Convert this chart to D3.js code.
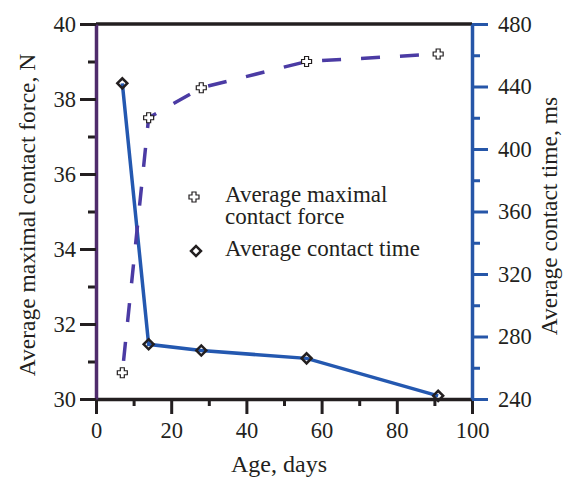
<!DOCTYPE html>
<html>
<head>
<meta charset="utf-8">
<script src="https://cdn.jsdelivr.net/npm/d3@7"></script>
<style>
  body { margin: 0; background: #fff; }
  svg text { font-family: 'Liberation Serif', 'Times New Roman', serif; fill: #231f20; }
</style>
</head>
<body>
<svg id="chart" width="566" height="480"></svg>
<script>
'use strict';

// age in days
let ages = [7, 14, 28, 56, 91];
// average maximal contact force, N (left axis)
let forceValues = [30.7, 37.5, 38.3, 39.0, 39.2];
// average contact time, ms (right axis)
let timeValues = [442, 275, 271, 266, 242];

let xTicks = [0, 20, 40, 60, 80, 100];
let forceTicks = [30, 32, 34, 36, 38, 40];
let timeTicks = [240, 280, 320, 360, 400, 440, 480];

let legendLabels = [['Average maximal', 'contact force'], ['Average contact time']];

let svg = d3.select('#chart');
let plotLeft = 96, plotRight = 472, plotTop = 24, plotBottom = 399;

let x = d3.scaleLinear().domain([0, 100]).range([plotLeft, plotRight]);
let yF = d3.scaleLinear().domain([30, 40]).range([plotBottom, plotTop]);
let yT = d3.scaleLinear().domain([240, 480]).range([plotBottom, plotTop]);

let purple = '#4f2c6c';
let blue = '#2656a8';
let dashColor = '#4b3ba4';
let lineBlue = '#2458b0';

// minor ticks
let minorX = d3.range(10, 100, 20);
let minorF = d3.range(31, 40, 2);
let minorT = d3.range(260, 480, 40);

function styleAxis(g, color, lineColor) {
    g.selectAll('.tick line').attr('stroke', color).attr('stroke-width', 3);
    g.select('.domain').attr('stroke', lineColor || color).attr('stroke-width', 3.5);
    g.selectAll('text').style('font-size', '22.5px').attr('fill', '#231f20');
}

// bottom axis
svg.append('g')
    .attr('transform', 'translate(0,' + plotBottom + ')')
    .call(d3.axisBottom(x).tickValues(minorX).tickSize(7).tickFormat('').tickSizeOuter(0))
    .call(g => { styleAxis(g, '#231f20'); g.select('.domain').remove(); });
svg.append('g')
    .attr('transform', 'translate(0,' + plotBottom + ')')
    .call(d3.axisBottom(x).tickValues(xTicks).tickSize(15).tickPadding(8).tickSizeOuter(0))
    .call(g => styleAxis(g, '#231f20'));

// top border
svg.append('line')
    .attr('x1', plotLeft).attr('x2', plotRight)
    .attr('y1', plotTop).attr('y2', plotTop)
    .attr('stroke', '#231f20').attr('stroke-width', 3.5);

// left axis
svg.append('g')
    .attr('transform', 'translate(' + plotLeft + ',0)')
    .call(d3.axisLeft(yF).tickValues(minorF).tickSize(8).tickFormat('').tickSizeOuter(0))
    .call(g => { styleAxis(g, '#231f20'); g.select('.domain').remove(); });
svg.append('g')
    .attr('transform', 'translate(' + plotLeft + ',0)')
    .call(d3.axisLeft(yF).tickValues(forceTicks).tickSize(16).tickPadding(4).tickSizeOuter(0))
    .call(g => styleAxis(g, '#231f20', purple));

// right axis
svg.append('g')
    .attr('transform', 'translate(' + plotRight + ',0)')
    .call(d3.axisRight(yT).tickValues(minorT).tickSize(8).tickFormat('').tickSizeOuter(0))
    .call(g => { styleAxis(g, blue); g.select('.domain').remove(); });
svg.append('g')
    .attr('transform', 'translate(' + plotRight + ',0)')
    .call(d3.axisRight(yT).tickValues(timeTicks).tickSize(16).tickPadding(10).tickSizeOuter(0))
    .call(g => styleAxis(g, blue));

// axis titles
svg.append('text')
    .attr('transform', 'translate(35,215) rotate(-90)')
    .attr('text-anchor', 'middle')
    .style('font-size', '23.5px')
    .text('Average maximal contact force, N');
svg.append('text')
    .attr('transform', 'translate(557,216) rotate(-90)')
    .attr('text-anchor', 'middle')
    .style('font-size', '23.5px')
    .text('Average contact time, ms');
svg.append('text')
    .attr('x', 279).attr('y', 472)
    .attr('text-anchor', 'middle')
    .style('font-size', '24px')
    .text('Age, days');

let forceData = ages.map((a, i) => [a, forceValues[i]]);
let timeData = ages.map((a, i) => [a, timeValues[i]]);

// lines
svg.append('path')
    .datum(timeData)
    .attr('fill', 'none')
    .attr('stroke', lineBlue)
    .attr('stroke-width', 3.5)
    .attr('d', d3.line().x(d => x(d[0])).y(d => yT(d[1])));

svg.append('path')
    .datum(forceData)
    .attr('fill', 'none')
    .attr('stroke', dashColor)
    .attr('stroke-width', 3.5)
    .attr('stroke-dasharray', '19,20')
    .attr('stroke-dashoffset', -12)
    .attr('d', d3.line().x(d => x(d[0])).y(d => yF(d[1])));

let plusPath = 'M-2,-5H2V-2H5V2H2V5H-2V2H-5V-2H-2Z';
let diamond = d3.symbol().type(d3.symbolSquare).size(50);

function drawPlus(g, cx, cy) {
    g.append('path')
        .attr('transform', 'translate(' + cx + ',' + cy + ')')
        .attr('d', plusPath)
        .attr('fill', '#fff')
        .attr('stroke', '#231f20')
        .attr('stroke-width', 1.2);
}

function drawDiamond(g, cx, cy) {
    g.append('path')
        .attr('transform', 'translate(' + cx + ',' + cy + ') rotate(45)')
        .attr('d', diamond)
        .attr('fill', 'none')
        .attr('stroke', '#231f20')
        .attr('stroke-width', 2.5);
}

let markers = svg.append('g');
forceData.forEach(d => drawPlus(markers, x(d[0]), yF(d[1])));
timeData.forEach(d => drawDiamond(markers, x(d[0]), yT(d[1])));

// legend
let legend = svg.append('g');
drawPlus(legend, 194, 197);
drawDiamond(legend, 196, 251);
legendLabels.forEach((lines, i) => {
    let t = legend.append('text')
        .attr('x', 225)
        .attr('y', i === 0 ? 202 : 256)
        .style('font-size', '23px');
    lines.forEach((ln, j) => {
        t.append('tspan')
            .attr('x', 225)
            .attr('dy', j === 0 ? 0 : 22)
            .text(ln);
    });
});
</script>
</body>
</html>
